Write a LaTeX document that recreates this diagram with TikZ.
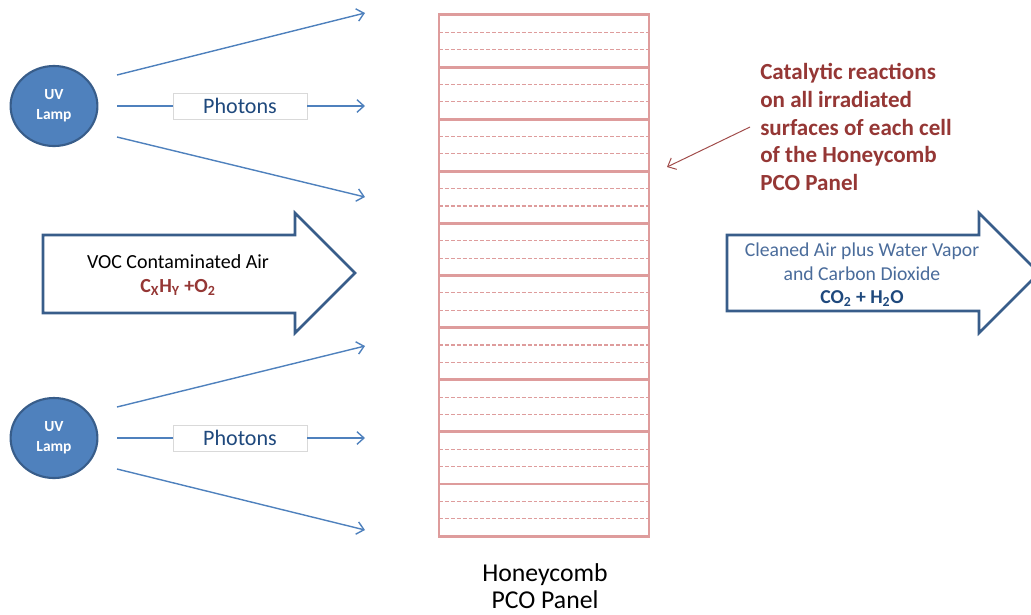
\documentclass[tikz,border=0pt]{standalone}
\usepackage{fontspec}
\setmainfont{Carlito}
\usetikzlibrary{shapes.geometric, arrows.meta, positioning}
\definecolor{lampblue}{HTML}{4F81BD}
\definecolor{lampedge}{HTML}{385D8A}
\definecolor{panelred}{HTML}{DE9C9C}
\definecolor{darkred}{HTML}{953735}
\definecolor{textblue}{HTML}{1F497D}
\definecolor{cleanblue}{HTML}{4A6C9B}

\begin{document}
\begin{tikzpicture}[x=0.025cm, y=-0.025cm,
    lamp/.style={ellipse, draw=lampedge, line width=1.5pt, fill=lampblue, minimum width=2.17cm, minimum height=2cm, inner sep=0pt, text=white, font=\fontsize{11}{14}\selectfont\bfseries, align=center},
    ray/.style={lampblue, line width=1pt},
    raytip/.style={ray, -{Straight Barb[length=5pt,width=9pt]}},
    photon/.style={rectangle, fill=white, draw=black!15, line width=0.5pt, minimum width=3.35cm, minimum height=0.65cm, text=textblue, font=\fontsize{15.7}{18}\selectfont},
    cell/.style={panelred, line width=2pt},
    subcell/.style={panelred, line width=0.8pt, dash pattern=on 2.8pt off 1.4pt},
    bigarrow/.style={draw=lampedge, line width=1.8pt, fill=white, line join=miter}
]
\useasboundingbox (0,0) rectangle (1031,614);
\clip (0,0) rectangle (1031,614);

% honeycomb panel
\foreach \i in {0,...,9} {
    \draw[subcell] (439,15+52.1*\i+17.4) -- (649,15+52.1*\i+17.4);
    \draw[subcell] (439,15+52.1*\i+34.7) -- (649,15+52.1*\i+34.7);
}
\foreach \i in {1,...,9}
    \draw[cell] (439,15+52.1*\i) -- (649,15+52.1*\i);
\node[draw=panelred, line width=2pt, minimum width=5.25cm, minimum height=13.03cm, inner sep=0pt] (panel) at (544,275.5) {};
\node[font=\fontsize{18.3}{19.2}\selectfont, align=center] (panellabel) at (545,586) {Honeycomb\\PCO Panel};

% upper lamp
\node[lamp] (lampA) at (54,106) {UV\\Lamp};
\node[photon] (photonA) at (240,106) {Photons};
\coordinate (a1s) at (117,75);   \coordinate (a1e) at (365,13);
\coordinate (a2s) at (117,106);  \coordinate (a2e) at (365,106);
\coordinate (a3s) at (117,137);  \coordinate (a3e) at (365,197);
\draw[raytip] (a1s) -- (a1e);
\draw[ray] (a2s) -- (photonA);
\draw[raytip] (photonA) -- (a2e);
\draw[raytip] (a3s) -- (a3e);

% lower lamp
\node[lamp] (lampB) at (54,438) {UV\\Lamp};
\node[photon] (photonB) at (240,438) {Photons};
\coordinate (b1s) at (117,407);  \coordinate (b1e) at (365,346);
\coordinate (b2s) at (117,438);  \coordinate (b2e) at (365,438);
\coordinate (b3s) at (117,469);  \coordinate (b3e) at (365,530);
\draw[raytip] (b1s) -- (b1e);
\draw[ray] (b2s) -- (photonB);
\draw[raytip] (photonB) -- (b2e);
\draw[raytip] (b3s) -- (b3e);

% air in and out
\draw[bigarrow] (43,235) -- (295,235) -- (295,213) -- (355,273) -- (295,333) -- (295,313) -- (43,313) -- cycle;
\node[font=\fontsize{14.2}{17}\selectfont, align=center] (airin) at (178,275)
    {VOC Contaminated Air\\{\color{darkred}\bfseries C\textsubscript{X}H\textsubscript{Y} +O\textsubscript{2}}};
\draw[bigarrow] (727,235) -- (979,235) -- (979,213) -- (1039,273) -- (979,333) -- (979,311) -- (727,311) -- cycle;
\node[font=\fontsize{14}{16.8}\selectfont, align=center, text=cleanblue] (airout) at (862,275)
    {Cleaned Air plus Water Vapor\\and Carbon Dioxide\\{\color{textblue}\bfseries CO\textsubscript{2} + H\textsubscript{2}O}};

% reaction note
\node[anchor=west, inner sep=0pt, align=left, text=darkred, font=\fontsize{16.4}{19.6}\selectfont\bfseries] (note) at (760,127)
    {Catalytic reactions\\on all irradiated\\surfaces of each cell\\of the Honeycomb\\PCO Panel};
\coordinate (notestart) at (750,127);
\coordinate (noteend) at (667,167);
\draw[darkred!90, line width=0.7pt, -{Straight Barb[length=5pt,width=9pt]}] (notestart) -- (noteend);
\end{tikzpicture}
\end{document}
